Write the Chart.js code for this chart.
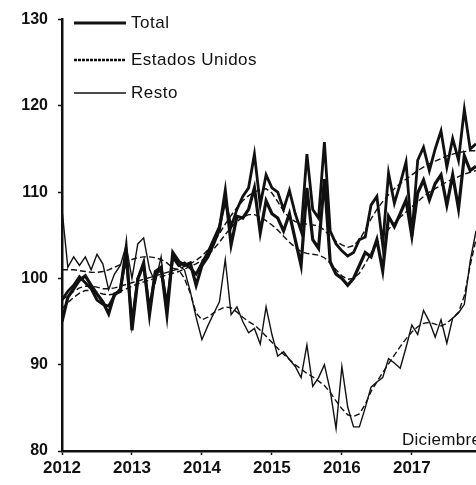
<!DOCTYPE html>
<html>
<head>
<meta charset="utf-8">
<script src="https://cdn.jsdelivr.net/npm/chart.js@4/dist/chart.umd.min.js"></script>
<style>
  html, body { margin: 0; padding: 0; background: #fff; }
  #wrap { width: 476px; height: 485px; position: relative; }
</style>
</head>
<body>
<div id="wrap"><canvas id="c" width="476" height="485"></canvas></div>
<script>
// ---- data (monthly, Jan 2012 .. Dec 2017) ----
const yearLabels = ["2012", "2013", "2014", "2015", "2016", "2017"];
const yearTickIdx = [0, 12, 24, 36, 48, 60];
const yTicks = [80, 90, 100, 110, 120, 130];
const seriesNames = ["Total", "Estados Unidos", "Resto"];
const noteText = "Diciembre";

const total = [
  95.0, 97.8, 98.8, 99.8, 100.3, 99.2, 98.2, 97.3, 95.9, 98.2, 98.5, 103.5,
  94.0, 99.9, 101.8, 95.8, 100.8, 101.3, 95.8, 103.0, 102.0, 101.5, 101.8, 99.2,
  101.5, 102.5, 104.0, 105.7, 110.1, 103.9, 107.2, 107.0, 108.0, 110.5, 105.3, 109.0,
  107.5, 107.0, 105.5, 107.5, 104.5, 101.5, 110.5, 104.5, 103.5, 111.5, 101.9, 100.5,
  100.0, 99.2, 100.0, 101.5, 103.0, 102.5, 104.5, 100.9, 107.2, 106.0, 107.5, 109.1,
  104.9, 109.9, 111.4, 109.1, 111.0, 112.0, 108.5, 112.0, 108.1, 114.2, 112.5, 113.0
];
const eeuu = [
  97.5, 98.5, 99.2, 100.2, 99.5, 98.8, 97.5, 97.0, 96.8, 98.0, 98.8, 102.5,
  95.0, 100.0, 101.5, 96.5, 100.5, 101.0, 97.0, 102.5, 101.5, 101.8, 101.2, 100.5,
  101.8, 103.0, 104.5, 106.0, 109.0, 106.0, 108.0, 109.5, 110.5, 114.4, 108.5, 112.0,
  110.5, 110.0, 108.0, 110.2, 107.5, 105.5, 114.4, 108.0, 107.0, 115.8, 105.5, 104.0,
  103.2, 102.6, 103.0, 104.5, 104.8, 108.5, 109.5, 103.9, 112.2, 108.7, 111.0, 113.5,
  104.9, 113.7, 115.2, 112.5, 115.0, 117.1, 112.9, 116.2, 113.7, 119.6, 115.0, 115.6
];
const resto = [
  108.0, 101.3, 102.5, 101.5, 102.5, 101.0, 102.8, 101.7, 98.7, 100.5, 101.5, 103.8,
  100.0, 104.0, 104.7, 101.1, 99.5, 102.5, 95.8, 103.0, 101.5, 101.0, 98.5, 95.5,
  92.9, 94.5, 95.9, 97.3, 102.2, 95.8, 96.7, 95.0, 93.7, 94.2, 92.4, 96.7,
  93.5, 91.0, 91.5, 90.6, 89.8, 88.5, 92.3, 87.5, 88.5, 90.0, 87.0, 82.6,
  89.8, 85.1, 82.8, 82.8, 85.0, 87.4, 88.0, 88.5, 90.7, 90.2, 89.6, 92.0,
  94.6, 93.5, 96.3, 95.0, 93.2, 95.2, 92.5, 95.4, 96.0, 97.0, 102.0, 105.5
];
// trend (dashed) lines
const totalTrend = [
  96.5, 97.2, 97.8, 98.3, 98.6, 98.6, 98.4, 98.2, 98.1, 98.2, 98.5, 98.8,
  99.1, 99.4, 99.6, 99.8, 100.0, 100.2, 100.4, 100.6, 100.8, 101.1, 101.4, 101.7,
  102.1, 102.7, 103.4, 104.2, 105.1, 105.9, 106.6, 107.1, 107.4, 107.4, 107.1, 106.7,
  106.2, 105.6, 104.9, 104.2, 103.6, 103.1, 102.9, 102.8, 102.7, 102.4, 101.8, 101.0,
  100.3, 99.9, 100.0, 100.6, 101.7, 102.9, 104.0, 104.9, 105.7, 106.4, 107.1, 107.7,
  108.3, 108.9, 109.5, 110.0, 110.4, 110.8, 111.2, 111.5, 111.8, 112.1, 112.3, 112.5
];
const eeuuTrend = [
  97.5, 98.0, 98.5, 98.9, 99.1, 99.1, 99.0, 98.8, 98.8, 98.9, 99.1, 99.3,
  99.5, 99.7, 99.9, 100.1, 100.3, 100.5, 100.7, 100.9, 101.1, 101.4, 101.7, 102.1,
  102.6, 103.3, 104.2, 105.2, 106.3, 107.3, 108.2, 109.0, 109.6, 110.0, 110.3, 110.4,
  109.9, 108.9, 107.8, 107.0, 106.6, 106.4, 106.3, 106.2, 106.1, 105.6, 104.9, 104.3,
  103.9, 103.6, 103.8, 104.5, 105.6, 106.9, 108.0, 108.9, 109.7, 110.4, 111.0, 111.5,
  112.0, 112.5, 112.9, 113.3, 113.6, 113.9, 114.2, 114.4, 114.6, 114.7, 114.8, 114.8
];
const restoTrend = [
  101.0, 101.0, 101.0, 100.9, 100.8, 100.7, 100.7, 100.8, 101.0, 101.3, 101.6, 101.9,
  102.2, 102.4, 102.5, 102.5, 102.4, 102.2, 101.8, 101.2, 101.0, 100.0, 98.3, 96.0,
  95.2, 95.5, 96.0, 96.4, 96.7, 96.6, 96.1, 95.5, 95.0, 94.6, 94.0, 93.3,
  92.6, 91.9, 91.2, 90.6, 90.0, 89.5, 89.0, 88.6, 88.1, 87.6, 86.8, 85.8,
  84.9, 84.2, 84.0, 84.3, 85.4, 86.9, 88.0, 89.1, 90.1, 91.1, 92.1, 93.0,
  93.8, 94.4, 94.8, 94.9, 94.7, 94.5, 94.8, 95.4, 96.1, 98.0, 101.5, 104.5
];

const FONT = '"Liberation Sans", Arial, Helvetica, sans-serif';
const INK = '#111';
const pts = arr => arr.map((v, i) => ({ x: i, y: v }));

const styleTotal = { borderWidth: 3.2, borderDash: [] };
const styleEE = { borderWidth: 2.8, borderDash: [] };
const styleResto = { borderWidth: 1.4, borderDash: [] };
const styleTrend = { borderWidth: 1.4, borderDash: [6, 3] };

function ds(label, arr, st) {
  return {
    label, data: pts(arr), borderColor: INK, backgroundColor: INK,
    borderWidth: st.borderWidth, borderDash: st.borderDash,
    pointRadius: 0, tension: 0, fill: false
  };
}

const legendPlugin = {
  id: 'customLegend',
  afterDraw(chart) {
    const ctx = chart.ctx;
    const rows = [
      { name: seriesNames[0], st: styleTotal, y: 23 },
      { name: seriesNames[1], st: { borderWidth: 2.4, borderDash: [3, 1] }, y: 60 },
      { name: seriesNames[2], st: styleResto, y: 93 }
    ];
    ctx.save();
    rows.forEach(r => {
      ctx.strokeStyle = INK;
      ctx.lineWidth = r.st.borderWidth;
      ctx.setLineDash(r.st.borderDash);
      ctx.beginPath();
      ctx.moveTo(74, r.y);
      ctx.lineTo(126, r.y);
      ctx.stroke();
      ctx.setLineDash([]);
      ctx.fillStyle = INK;
      ctx.font = '17px ' + FONT;
      if ('letterSpacing' in ctx) ctx.letterSpacing = '0.5px';
      ctx.textBaseline = 'middle';
      ctx.textAlign = 'left';
      ctx.fillText(r.name, 131, r.y);
    });
    // note at bottom right
    const xs = chart.scales.x;
    ctx.font = '17px ' + FONT;
    if ('letterSpacing' in ctx) ctx.letterSpacing = '0.3px';
    ctx.textBaseline = 'alphabetic';
    ctx.fillText(noteText, xs.getPixelForValue(58.3), 445);
    ctx.restore();
  }
};

new Chart(document.getElementById('c'), {
  type: 'line',
  data: {
    datasets: [
      ds('tendencia Resto', restoTrend, styleTrend),
      ds('tendencia Estados Unidos', eeuuTrend, styleTrend),
      ds('tendencia Total', totalTrend, styleTrend),
      ds(seriesNames[2], resto, styleResto),
      ds(seriesNames[1], eeuu, styleEE),
      ds(seriesNames[0], total, styleTotal)
    ]
  },
  options: {
    responsive: false,
    animation: false,
    devicePixelRatio: 1,
    layout: { padding: { top: 14, right: 0, bottom: 0, left: 0 } },
    plugins: { legend: { display: false }, tooltip: { enabled: false } },
    scales: {
      x: {
        type: 'linear', min: 0, max: total.length - 1,
        afterBuildTicks: s => { s.ticks = yearTickIdx.map(v => ({ value: v })); },
        afterFit: s => { s.height = 34; },
        ticks: {
          callback: v => { const k = yearTickIdx.indexOf(v); return k >= 0 ? yearLabels[k] : ''; },
          color: INK, font: { family: FONT, size: 17, weight: 'bold' },
          padding: 3, maxRotation: 0, autoSkip: false
        },
        grid: { display: true, drawOnChartArea: false, tickLength: 4, color: INK, tickWidth: 1.5 },
        border: { display: true, color: INK, width: 2.5 }
      },
      y: {
        type: 'linear', min: 80, max: 130,
        afterBuildTicks: s => { s.ticks = yTicks.map(v => ({ value: v })); },
        afterFit: s => { s.width = 62; },
        ticks: {
          color: INK, font: { family: FONT, size: 16, weight: 'bold' },
          padding: 10
        },
        grid: { display: true, drawOnChartArea: false, tickLength: 4, color: INK, tickWidth: 1.5 },
        border: { display: true, color: INK, width: 2.5 }
      }
    }
  },
  plugins: [legendPlugin]
});
</script>
</body>
</html>
